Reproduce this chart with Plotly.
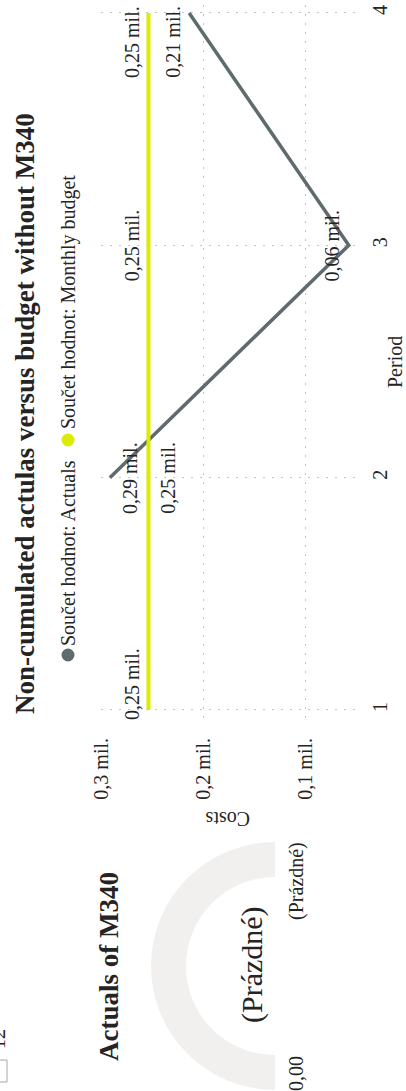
import plotly.graph_objects as go

# ---- data ----
periods = [1, 2, 3, 4]
actuals = [None, 0.292, 0.057, 0.214]          # mil.
monthly_budget = [0.254, 0.254, 0.254, 0.254]  # mil.
cost_ticks = [0.1, 0.2, 0.3]
series_names = ["Součet hodnot: Actuals", "Součet hodnot: Monthly budget"]
gauge_share = [1, 1]  # empty half, ring background half

# label placement relative to each point ("a" = above, "b" = below in the chart frame)
actual_label_pos = [None, "b", "a", "a"]
budget_label_pos = ["a", "b", "a", "a"]

# ---- style ----
W, H = 406, 1091
FONT = "Liberation Serif"
TXT = "#252423"
GRAY = "#5F6B6D"
YELLOW = "#DDEB00"
GRID = "#C4C4C4"


def px(x):
    return x / W


def py(y):
    return 1 - y / H


def fmt_mil(v, nd=2):
    return f"{v:.{nd}f}".replace(".", ",") + " mil."


fig = go.Figure()

fig.add_trace(go.Scatter(
    x=actuals, y=periods, mode="lines", name=series_names[0],
    line=dict(color=GRAY, width=3.5), connectgaps=False, hoverinfo="skip",
    showlegend=False,
))
fig.add_trace(go.Scatter(
    x=monthly_budget, y=periods, mode="lines", name=series_names[1],
    line=dict(color=YELLOW, width=4), hoverinfo="skip", showlegend=False,
))

# gauge ring (empty value)
fig.add_trace(go.Pie(
    values=gauge_share, hole=0.718, sort=False, direction="counterclockwise",
    rotation=0, textinfo="none", hoverinfo="skip", showlegend=False,
    marker=dict(colors=["rgba(0,0,0,0)", "#F1F0EF"], line=dict(width=0)),
    domain=dict(x=[px(151), px(399)], y=[py(1090), py(842)]),
))

annotations = []


def label_shifts(pos, period):
    xs = -16.5 if pos == "a" else 19.5
    ys = 0
    if period == periods[0]:
        ys = 26
    elif period == periods[-1]:
        ys = -29
    return xs, ys


for vals, poss in ((actuals, actual_label_pos), (monthly_budget, budget_label_pos)):
    for p, v, pos in zip(periods, vals, poss):
        if v is None:
            continue
        xs, ys = label_shifts(pos, p)
        annotations.append(dict(
            x=v, y=p, xref="x", yref="y", text=fmt_mil(v), showarrow=False,
            textangle=-90, xshift=xs, yshift=ys, xanchor="center", yanchor="middle",
            font=dict(family=FONT, size=20, color=TXT),
        ))


def text_at(x, y, text, size=20, angle=-90, bold=False, color=TXT):
    annotations.append(dict(
        x=px(x), y=py(y), xref="paper", yref="paper", text=text, showarrow=False,
        textangle=angle, xanchor="center", yanchor="middle",
        font=dict(family=FONT, size=size, color=color,
                  weight="bold" if bold else "normal"),
    ))


# chart title and legend
text_at(25, 414, "Non-cumulated actulas versus budget without M340", size=27, bold=True)
text_at(68, 553, series_names[0], size=20)
text_at(68, 302, series_names[1], size=20)

# axis titles
text_at(395, 362, "Period", size=20)
text_at(228, 819, "Costs", size=20, angle=180)

# gauge visual
text_at(109, 967, "Actuals of M340", size=27, bold=True)
text_at(252, 965, "(Prázdné)", size=30)
text_at(296, 881, "(Prázdné)", size=20)
text_at(296, 1074, fmt_mil(0.0).replace(" mil.", ""), size=20)

# slicer item at the edge
text_at(-2, 1039, "12", size=20)

shapes = [
    dict(type="circle", xref="paper", yref="paper",
         x0=px(61.5), x1=px(74.5), y0=py(661.5), y1=py(648.5),
         fillcolor=GRAY, line=dict(width=0)),
    dict(type="circle", xref="paper", yref="paper",
         x0=px(61.5), x1=px(74.5), y0=py(446.5), y1=py(433.5),
         fillcolor=YELLOW, line=dict(width=0)),
    dict(type="rect", xref="paper", yref="paper",
         x0=px(-15), x1=px(7), y0=py(1082), y1=py(1060),
         fillcolor="white", line=dict(color="#A7A7A7", width=1)),
]

fig.update_layout(
    width=W, height=H, margin=dict(l=0, r=0, t=0, b=0),
    paper_bgcolor="white", plot_bgcolor="white",
    showlegend=False, annotations=annotations, shapes=shapes,
    xaxis=dict(
        domain=[px(101), px(358)], range=[0.3007, 0.0479],
        tickvals=cost_ticks, ticktext=[fmt_mil(v, 1) for v in cost_ticks],
        tickangle=-90, tickfont=dict(family=FONT, size=20, color=TXT),
        showgrid=True, gridcolor=GRID, griddash="2px,7px", gridwidth=1,
        zeroline=False, showline=False, ticks="", ticklabelstandoff=10,
        automargin=False, fixedrange=True,
    ),
    yaxis=dict(
        domain=[py(723), py(5)], range=[0.944, 4.0344], side="right",
        tickvals=periods, ticktext=[str(p) for p in periods],
        tickangle=-90, tickfont=dict(family=FONT, size=20, color=TXT),
        showgrid=True, gridcolor=GRID, griddash="2px,7px", gridwidth=1,
        zeroline=False, showline=False, ticks="", ticklabelstandoff=8,
        automargin=False, fixedrange=True,
    ),
)

fig.write_html("out.html")
